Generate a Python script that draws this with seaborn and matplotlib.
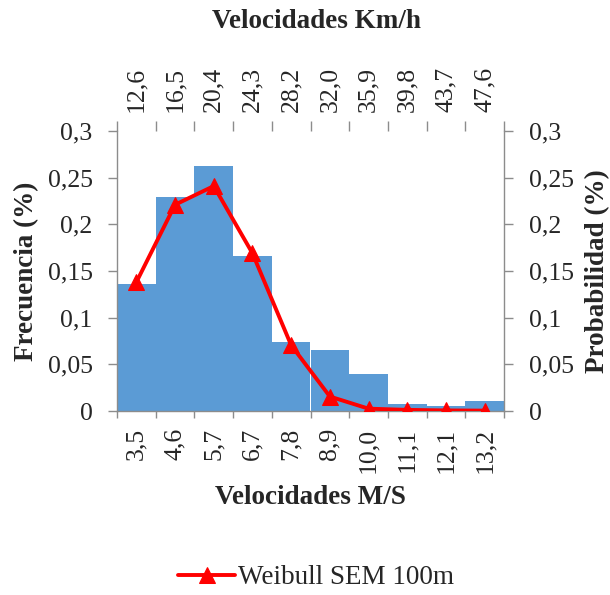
import matplotlib
matplotlib.use("Agg")
import matplotlib.pyplot as plt
import seaborn as sns
import numpy as np
import pandas as pd

ms_labels = ["3,5", "4,6", "5,7", "6,7", "7,8", "8,9", "10,0", "11,1", "12,1", "13,2"]
kmh_labels = ["12,6", "16,5", "20,4", "24,3", "28,2", "32,0", "35,9", "39,8", "43,7", "47,6"]
frecuencia = [0.136, 0.229, 0.262, 0.166, 0.0735, 0.065, 0.040, 0.0072, 0.0054, 0.0104]
weibull = [0.138, 0.221, 0.241, 0.169, 0.0705, 0.0155, 0.0025, 0.0012, 0.0006, 0.0004]
yticks = [0, 0.05, 0.1, 0.15, 0.2, 0.25, 0.3]
ytick_labels = ["0", "0,05", "0,1", "0,15", "0,2", "0,25", "0,3"]

sns.set_theme(style="white")
plt.rcParams["font.family"] = ["Liberation Serif", "DejaVu Serif"]
FS = 18.5
FSB = 19.5
GRAY = "#8c8c8c"

df = pd.DataFrame({"ms": ms_labels, "frec": frecuencia})

fig = plt.figure(figsize=(6.1, 5.95), dpi=100)
ax = fig.add_axes([117 / 610, 1 - 411 / 595, 387 / 610, 280 / 595])

sns.barplot(data=df, x="ms", y="frec", ax=ax, color="#5B9BD5", width=1.0,
            saturation=1, linewidth=0)
n = len(ms_labels)
ax.set_xlim(-0.5, n - 0.5)
ax.set_ylim(0, 0.3)

# secondary y axis with Weibull line
ax2 = ax.twinx()
sns.lineplot(x=np.arange(n), y=weibull, ax=ax2, color="#FF0000", marker="^",
             markersize=11, markeredgecolor="#FF0000", linewidth=2.8,
             label="Weibull SEM 100m", legend=False)
ax2.set_ylim(0, 0.3)
ax2.set_xlim(-0.5, n - 0.5)

# top x axis
ax3 = ax.twiny()
ax3.set_xlim(-0.5, n - 0.5)

bounds = np.arange(n + 1) - 0.5
centers = np.arange(n)
for a in (ax, ax3):
    a.set_xticks(bounds)
    a.set_xticklabels([])
    a.set_xticks(centers, minor=True)
ax.set_xticklabels(ms_labels, minor=True, rotation=90, fontsize=FS)
ax3.set_xticklabels(kmh_labels, minor=True, rotation=90, fontsize=FS)
ax.tick_params(axis="x", which="major", direction="out", length=5, width=1, color=GRAY, bottom=True)
ax.tick_params(axis="x", which="minor", length=0, pad=12, bottom=True)
ax3.tick_params(axis="x", which="major", direction="out", length=7, width=1, color=GRAY, top=True)
ax3.tick_params(axis="x", which="minor", length=0, pad=14, top=True)

ax.set_yticks(yticks)
ax.set_yticklabels(ytick_labels, fontsize=FS)
ax2.set_yticks(yticks)
ax2.set_yticklabels(ytick_labels, fontsize=FS)
ax.tick_params(axis="y", direction="out", length=6.5, width=1, color=GRAY, pad=11, left=True)
ax2.tick_params(axis="y", direction="out", length=6.5, width=1, color=GRAY, pad=11.5, right=True)

for a in (ax, ax2, ax3):
    for s in a.spines.values():
        s.set_visible(False)
ax.spines["left"].set_visible(True)
ax.spines["bottom"].set_visible(True)
ax2.spines["right"].set_visible(True)
for a, s in ((ax, "left"), (ax, "bottom"), (ax2, "right")):
    a.spines[s].set_color(GRAY)
    a.spines[s].set_linewidth(1)

ax.set_xlabel("Velocidades M/S", fontsize=FSB, fontweight="bold", va="center")
ax.xaxis.set_label_coords((310 - 117) / 387, (411 - 498) / 280)
ax3.set_xlabel("Velocidades Km/h", fontsize=FSB, fontweight="bold", va="center")
ax3.xaxis.set_label_coords((316 - 117) / 387, (411 - 22) / 280)
ax.set_ylabel("Frecuencia (%)", fontsize=FSB, fontweight="bold", va="center")
ax.yaxis.set_label_coords((27 - 117) / 387, 0.5)
ax2.set_ylabel("Probabilidad (%)", fontsize=FSB, fontweight="bold", va="center", rotation=90)
ax2.yaxis.set_label_coords((598 - 117) / 387, 0.5)

handles, labels = ax2.get_legend_handles_labels()
fig.legend(handles, labels, loc="center", bbox_to_anchor=(316 / 610, 1 - 578 / 595),
           frameon=False, fontsize=FSB, handlelength=2.1, handletextpad=0.1)

fig.savefig("out.png", dpi=100)
